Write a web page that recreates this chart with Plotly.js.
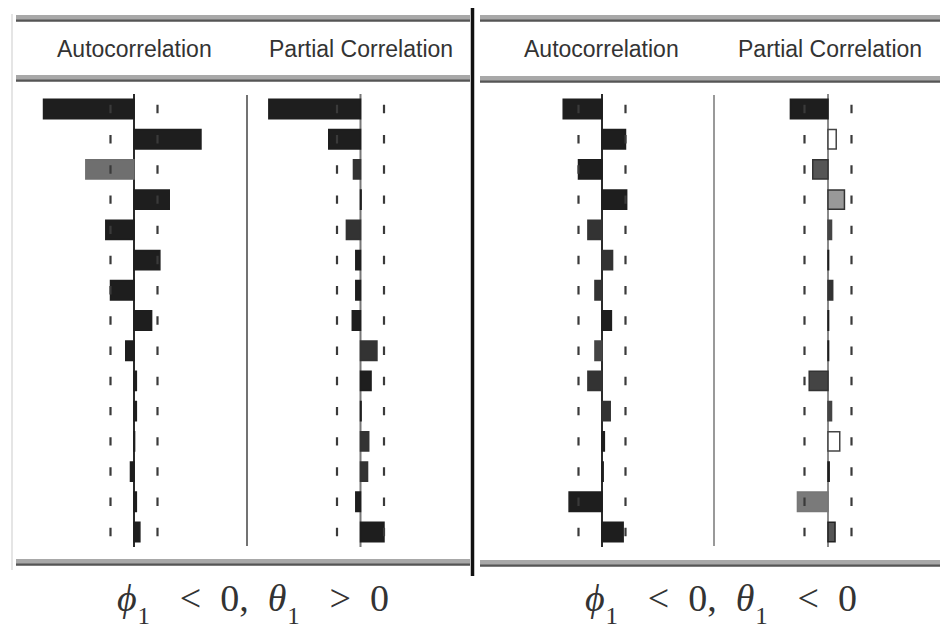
<!DOCTYPE html>
<html>
<head>
<meta charset="utf-8">
<script src="https://cdn.plot.ly/plotly-3.0.1.min.js"></script>
<style>html,body{margin:0;padding:0;background:#fff;}#chart{width:940px;height:632px;}</style>
</head>
<body>
<div id="chart"></div>
<script>
// ---- data ----
const lags = [1,2,3,4,5,6,7,8,9,10,11,12,13,14,15];
const acfLeft   = [-0.77, 0.57, -0.41, 0.30, -0.24, 0.22, -0.20, 0.15, -0.07, 0.02, 0.02, 0.005, -0.03, 0.02, 0.05];
const pacfLeft  = [-0.78, -0.27, -0.06, 0.005, -0.12, -0.04, -0.04, -0.07, 0.14, 0.09, 0.005, 0.07, 0.06, -0.04, 0.20];
const acfRight  = [-0.33, 0.20, -0.20, 0.21, -0.12, 0.09, -0.06, 0.08, -0.06, -0.12, 0.07, 0.02, 0.01, -0.28, 0.18];
const pacfRight = [-0.32, 0.07, -0.13, 0.14, 0.03, 0.005, 0.04, 0.005, 0.005, -0.16, 0.03, 0.10, 0.01, -0.26, 0.06];
const bound = 0.2;
const headerLabels = ["Autocorrelation", "Partial Correlation"];
const caseSigns = ["&gt;", "&lt;"];   // sign of theta_1 in each panel

// ---- styles ----
const D = "#1e1e1e";
const acfLeftFill   = [D,D,"#6f6f6f",D,D,D,D,D,D,D,D,D,D,D,D];
const pacfLeftFill  = [D,D,"#333",D,"#333",D,D,D,"#333",D,D,"#333","#333",D,D];
const acfRightFill  = [D,D,D,D,"#333","#333","#333",D,"#444","#333","#333",D,D,D,D];
const pacfRightFill = [D,"#ffffff","#555","#999","#444",D,"#333",D,D,"#444","#444","#ffffff",D,"#7a7a7a","#555"];
const pacfRightLine = [D,"#444","#333","#333","#444",D,"#333",D,D,"#333","#444","#444",D,"#777","#222"];

const W = 940, H = 632;
const PXU = 117.5;        // pixels per correlation unit
const XR = 0.9;           // half range
const zeroPx = [134, 360.5, 602, 828];
const px = x => x / W;
const py = y => 1 - y / H;

const series = [acfLeft, pacfLeft, acfRight, pacfRight];
const fills = [acfLeftFill, pacfLeftFill, acfRightFill, pacfRightFill];
const lines = [acfLeftFill, pacfLeftFill, acfRightFill, pacfRightLine];
const zeroCol = ["#2a2a2a", "#777", "#2a2a2a", "#8a8a8a"];

const traces = [];
const layout = {
  width: W, height: H,
  margin: {l:0, r:0, t:0, b:0},
  paper_bgcolor: "#fff", plot_bgcolor: "rgba(0,0,0,0)",
  showlegend: false,
  barmode: "overlay",
  yaxis: {domain: [1 - 547.1/H, 1 - 93.9/H], range: [15.5, 0.5], visible: false, fixedrange: true},
  shapes: [], annotations: []
};

series.forEach((vals, i) => {
  const ax = i === 0 ? "x" : "x" + (i + 1);
  const axKey = i === 0 ? "xaxis" : "xaxis" + (i + 1);
  layout[axKey] = {
    domain: [px(zeroPx[i] - XR*PXU), px(zeroPx[i] + XR*PXU)],
    range: [-XR, XR], anchor: "y", visible: false, fixedrange: true
  };
  layout.shapes.push({type: "line", xref: ax, yref: "y", x0: 0, x1: 0, y0: 0.5, y1: 15.5,
    line: {color: zeroCol[i], width: 2}, layer: "below"});
  traces.push({
    type: "scatter", mode: "markers", xaxis: ax, yaxis: "y",
    x: lags.map(() => -bound).concat(lags.map(() => bound)),
    y: lags.concat(lags),
    marker: {symbol: "line-ns", size: 6, line: {color: "#3a3a3a", width: 2.2}},
    hoverinfo: "skip"
  });
  traces.push({
    type: "bar", orientation: "h", xaxis: ax, yaxis: "y",
    x: vals, y: lags, width: 0.64,
    marker: {color: fills[i], line: {color: lines[i], width: 1.5}},
    hoverinfo: "x+y"
  });
});

// column separators
[247, 714].forEach((x, k) => {
  layout.shapes.push({type: "line", xref: "paper", yref: "paper", x0: px(x), x1: px(x),
    y0: py(95), y1: py(546), line: {color: k === 0 ? "#444" : "#777", width: 1.5}});
});

// header / footer bands
function band(x0, x1, y0, y1) {
  layout.shapes.push({type: "rect", xref: "paper", yref: "paper", x0: px(x0), x1: px(x1),
    y0: py(y1), y1: py(y0), fillcolor: "#a8a8a8", line: {width: 0}});
  layout.shapes.push({type: "line", xref: "paper", yref: "paper", x0: px(x0), x1: px(x1),
    y0: py(y1 - 1.5), y1: py(y1 - 1.5), line: {color: "#555", width: 2}});
}
band(16, 470, 15, 22);  band(16, 470, 75, 82);  band(16, 470, 559, 566);
band(480, 940, 15, 22); band(480, 940, 76, 83); band(480, 940, 560, 567);

layout.shapes.push({type: "line", xref: "paper", yref: "paper", x0: px(12), x1: px(12),
  y0: py(570), y1: py(14), line: {color: "#dcdcdc", width: 1.5}});
layout.shapes.push({type: "line", xref: "paper", yref: "paper", x0: px(472.5), x1: px(472.5),
  y0: py(576), y1: py(8), line: {color: "#111", width: 3.5}});

// header texts
const headerX = [134, 361, 601.5, 829.5];
headerX.forEach((x, i) => {
  layout.annotations.push({xref: "paper", yref: "paper", x: px(x), y: py(49),
    xanchor: "center", yanchor: "middle", showarrow: false,
    text: headerLabels[i % 2],
    font: {family: "Liberation Sans, Arial, sans-serif", size: 23, color: "#333"}});
});

// case labels
const FS = 38;
const it = s => `<span style="font-style:italic;font-size:${FS}px">${s}</span>`;
const sb = `<span style="font-size:${FS + 4}px;baseline-shift:-5px">₁</span>`;
const sp = n => "&nbsp;".repeat(n);
[253, 720.5].forEach((x, i) => {
  const txt = it("ϕ") + sb + sp(3) + "&lt;" + sp(2) + "0," + sp(2) + it("θ") + sb + sp(3) + caseSigns[i] + sp(2) + "0";
  layout.annotations.push({xref: "paper", yref: "paper", x: px(x), y: py(601),
    xanchor: "center", yanchor: "middle", showarrow: false,
    text: txt,
    font: {family: "Liberation Serif, Times New Roman, serif", size: FS, color: "#333"}});
});

Plotly.newPlot("chart", traces, layout, {displayModeBar: false});
</script>
</body>
</html>
